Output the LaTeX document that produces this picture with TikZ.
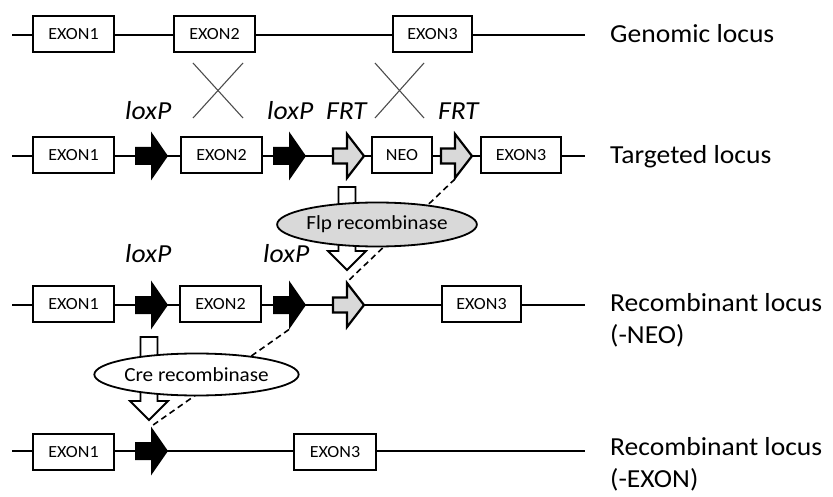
\documentclass[tikz,border=0pt]{standalone}
\usepackage{fontspec}
\setmainfont{Carlito}[FakeStretch=1.06]
\usetikzlibrary{shapes.geometric}
\tikzset{
  locus/.style={line width=2.2pt},
  exonbox/.style={draw, line width=1.9pt, fill=white, minimum width=81pt, minimum height=36pt, inner sep=0pt, font=\fontsize{17}{20}\selectfont},
  sitelabel/.style={anchor=base west, inner sep=0pt, font=\fontsize{26}{30}\selectfont\itshape},
  locuslabel/.style={anchor=base west, inner sep=0pt, font=\fontsize{26}{31}\selectfont},
  crossline/.style={line width=1.1pt, black!70},
  dashconn/.style={line width=1.6pt, dash pattern=on 6pt off 4pt},
  enzyme/.style={ellipse, draw, line width=1.8pt, inner sep=0pt, font=\fontsize{20}{24}\selectfont},
  loxarrow/.pic={
    \fill[black] (0,-9) -- (16,-9) -- (16,-24.5) -- (33,0) -- (16,24.5) -- (16,9) -- (0,9) -- cycle;
    \coordinate (-top) at (16,-24.5);
    \coordinate (-bot) at (16,24.5);
  },
  frtarrow/.pic={
    \draw[line width=2.2pt, fill=black!15] (1,-7.5) -- (15,-7.5) -- (15,-22) -- (32,0) -- (15,22) -- (15,7.5) -- (1,7.5) -- cycle;
    \coordinate (-top) at (15,-23);
    \coordinate (-bot) at (15,23);
  },
  blockdown/.pic={
    \draw[line width=1.8pt, fill=white] (-8.5,0) -- (-8.5,64) -- (-19,64) -- (0,83) -- (19,64) -- (8.5,64) -- (8.5,0) -- cycle;
  }
}
\begin{document}
\begin{tikzpicture}[x=1pt, y=-1pt]
\useasboundingbox (0,0) rectangle (833,497);

% locus lines
\draw[locus] (12,35) -- (585,35);
\draw[locus] (12,156) -- (585,156);
\draw[locus] (12,305) -- (585,305);
\draw[locus] (12,451) -- (585,451);

% crossover marks
\draw[crossline] (193,63) -- (243,118);
\draw[crossline] (193,118) -- (243,63);
\draw[crossline] (375,63) -- (424,118);
\draw[crossline] (375,118) -- (424,63);

% row 1: genomic locus
\node[exonbox] (g1) at (73.5,34) {EXON1};
\node[exonbox] (g2) at (214.5,34) {EXON2};
\node[exonbox, minimum width=79pt] (g3) at (432.5,34) {EXON3};
\node[locuslabel] (lg) at (610,43) {Genomic locus};

% row 2: targeted locus
\node[exonbox] (t1) at (73.5,155) {EXON1};
\node[exonbox] (t2) at (221.5,155) {EXON2};
\node[exonbox, minimum width=60pt] (tn) at (402,155) {NEO};
\node[exonbox, minimum width=80pt] (t3) at (521,155) {EXON3};
\pic (tl1) at (135,156) {loxarrow};
\pic (tl2) at (273,156) {loxarrow};
\pic (tf1) at (332,156) {frtarrow};
\pic (tf2) at (440,156) {frtarrow};
\node[sitelabel] (ltl1) at (125,120) {loxP};
\node[sitelabel] (ltl2) at (267,120) {loxP};
\node[sitelabel] (ltf1) at (326,120) {FRT};
\node[sitelabel] (ltf2) at (438,120) {FRT};
\node[locuslabel] (lt) at (610,164) {Targeted locus};

% row 3: recombinant (-NEO)
\node[exonbox] (r1) at (73.5,304) {EXON1};
\node[exonbox] (r2) at (220.5,304) {EXON2};
\node[exonbox, minimum width=79pt] (r3) at (481.5,304) {EXON3};
\pic (rl1) at (135,305) {loxarrow};
\pic (rl2) at (273,305) {loxarrow};
\pic (rf1) at (332,305) {frtarrow};
\node[sitelabel] (lrl1) at (125,263) {loxP};
\node[sitelabel] (lrl2) at (263,263) {loxP};
\node[locuslabel] (lr) at (610,312) {Recombinant locus};
\node[locuslabel] (lr2) at (610,343) {(-NEO)};

% row 4: recombinant (-EXON)
\node[exonbox] (e1) at (73.5,452) {EXON1};
\node[exonbox, minimum width=82pt] (e3) at (335,452) {EXON3};
\pic (el1) at (135,451) {loxarrow};
\node[locuslabel] (le) at (610,455) {Recombinant locus};
\node[locuslabel] (le2) at (610,487) {(-EXON)};

% recombination connectors
\draw[dashconn] (tf2-bot) -- (rf1-top);
\draw[dashconn] (rl2-bot) -- (el1-top);

% enzyme steps
\pic (flparrow) at (347,187) {blockdown};
\pic (crearrow) at (149,337) {blockdown};
\node[enzyme, fill=black!15, minimum width=189pt, minimum height=44pt] (flp) at (377,224.5) {Flp recombinase};
\node[enzyme, fill=white, minimum width=193pt, minimum height=42pt] (cre) at (196.5,374.5) {Cre recombinase};
\end{tikzpicture}
\end{document}
